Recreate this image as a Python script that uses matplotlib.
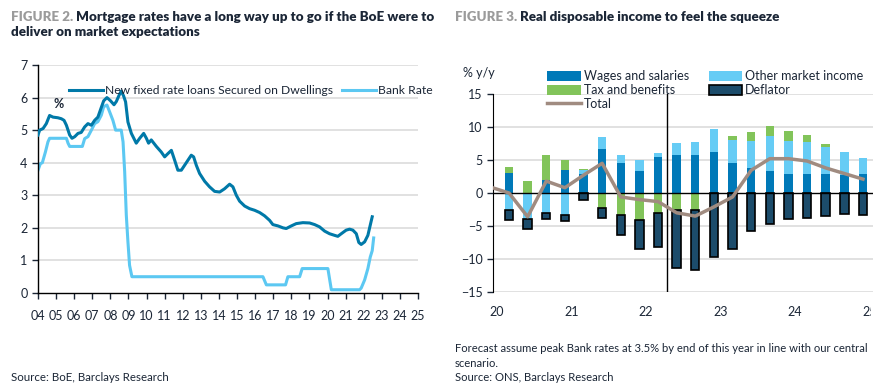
import numpy as np
import matplotlib
matplotlib.use("Agg")
from matplotlib import pyplot as plt
from matplotlib.patches import Rectangle

plt.rcParams['font.family'] = ['Lato', 'DejaVu Sans']

# ---- Figure 2 data ----
mort_year = [2004.00, 2004.09, 2004.28, 2004.46, 2004.64, 2004.83, 2005.10, 2005.29, 2005.44, 2005.57,
             2005.75, 2005.88, 2006.03, 2006.21, 2006.39, 2006.58, 2006.76, 2006.95, 2007.13, 2007.31,
             2007.50, 2007.63, 2007.81, 2008.01, 2008.20, 2008.33, 2008.48, 2008.60, 2008.73, 2008.84,
             2008.97, 2009.16, 2009.34, 2009.43, 2009.62, 2009.84, 2009.99, 2010.11, 2010.26, 2010.54,
             2010.81, 2011.00, 2011.18, 2011.37, 2011.55, 2011.73, 2011.92, 2012.10, 2012.29, 2012.47,
             2012.60, 2012.75, 2012.93, 2013.21, 2013.48, 2013.76, 2014.04, 2014.31, 2014.59, 2014.77,
             2014.96, 2015.14, 2015.42, 2015.69, 2015.97, 2016.25, 2016.52, 2016.80, 2016.98, 2017.26,
             2017.54, 2017.72, 2018.00, 2018.27, 2018.64, 2019.01, 2019.29, 2019.56, 2019.84, 2020.11,
             2020.39, 2020.57, 2020.76, 2021.03, 2021.22, 2021.40, 2021.59, 2021.73, 2021.86, 2022.05,
             2022.23, 2022.36, 2022.47]
mort_rate = [4.85, 5.0, 5.05, 5.2, 5.45, 5.4, 5.38, 5.35, 5.3, 5.15,
             4.85, 4.75, 4.8, 4.9, 4.93, 5.1, 5.2, 5.15, 5.3, 5.4,
             5.7, 5.9, 6.0, 5.9, 5.78, 5.88, 6.07, 6.2, 6.05, 5.87,
             5.25, 4.9, 4.7, 4.6, 4.75, 4.9, 4.75, 4.6, 4.7, 4.5,
             4.33, 4.18, 4.28, 4.38, 4.08, 3.77, 3.77, 3.92, 4.08, 4.23,
             4.18, 3.92, 3.67, 3.43, 3.26, 3.12, 3.1, 3.2, 3.34, 3.26,
             3.0, 2.82, 2.67, 2.59, 2.54, 2.47, 2.37, 2.23, 2.1, 2.06,
             2.0, 1.98, 2.06, 2.13, 2.16, 2.15, 2.1, 2.03, 1.9, 1.82,
             1.77, 1.74, 1.82, 1.93, 1.96, 1.93, 1.82, 1.55, 1.49, 1.57,
             1.77, 2.08, 2.34]

bank_year = [2004.00, 2004.13, 2004.24, 2004.41, 2004.55, 2004.64, 2005.57, 2005.66, 2005.75, 2006.45,
             2006.58, 2006.76, 2006.95, 2007.13, 2007.31, 2007.50, 2007.63, 2007.81, 2007.96, 2008.14,
             2008.29, 2008.60, 2008.70, 2008.79, 2008.88, 2008.97, 2009.06, 2009.19, 2016.43, 2016.62,
             2017.68, 2017.81, 2018.46, 2018.60, 2020.02, 2020.21, 2021.77, 2021.86, 2022.05, 2022.23,
             2022.36, 2022.47, 2022.55]
bank_rate = [3.77, 3.97, 4.0, 4.33, 4.64, 4.75, 4.75, 4.6, 4.5, 4.5,
             4.74, 4.8, 5.0, 5.2, 5.26, 5.46, 5.72, 5.77, 5.56, 5.3,
             5.0, 5.0, 4.64, 3.72, 2.39, 1.57, 0.85, 0.5, 0.5, 0.25,
             0.25, 0.5, 0.5, 0.75, 0.75, 0.1, 0.1, 0.15, 0.4, 0.75,
             1.1, 1.3, 1.69]

left_years = list(range(2004, 2026))
left_labels = ["%02d" % (y % 100) for y in left_years]

# ---- Figure 3 data (quarters, 2020Q1..2024Q4) ----
wages    = [3.0, 0.0, 1.9, 3.45, 2.9, 6.7, 4.55, 3.35, 5.4, 5.8, 5.8, 6.2, 4.55, 3.8, 3.35, 2.95, 2.85, 2.85, 2.75, 2.85]
other    = [-2.6, -4.0, -3.0, -3.4, 0.6, 1.75, 1.25, 1.7, 0.6, 1.85, 1.95, 3.45, 3.5, 4.15, 5.3, 5.0, 4.9, 4.15, 3.45, 2.5]
tax      = [1.0, 1.75, 3.8, 1.5, 0.2, -2.2, -3.4, -4.05, -3.1, -2.65, -2.5, 0.0, 0.6, 1.3, 1.55, 1.5, 1.1, 0.35, 0.0, 0.0]
deflator = [-1.5, -1.4, -0.9, -0.8, -1.0, -1.6, -2.9, -4.5, -5.1, -8.65, -9.2, -9.7, -8.55, -5.7, -4.7, -4.0, -3.85, -3.45, -3.25, -3.3]
# total starts one quarter earlier (2019Q4)
total    = [0.9, 0.0, -3.6, 1.8, 0.8, 2.7, 4.5, -0.6, -1.0, -1.3, -3.0, -3.5, -2.1, -0.6, 3.45, 5.2, 5.2, 4.85, 3.8, 2.95, 2.1]
right_labels = ["20", "21", "22", "23", "24", "25"]

c_mort = "#0079A8"
c_bank = "#5CC8F2"
c_wage = "#0079B8"
c_other = "#66CCF5"
c_tax = "#82C45A"
c_defl = "#1C4C6B"
c_total = "#A08B80"
c_grid = "#DCDCDC"
navy = "#1B2636"
grey = "#9B9B9B"

fig = plt.figure(figsize=(8.83, 3.89), dpi=100)

# ---------------- left chart ----------------
ax1 = fig.add_axes([38/883, 1-293/389, 380/883, 228/389])
for v in range(1, 8):
    ax1.axhline(v, color=c_grid, lw=1.2, zorder=0)
ax1.plot(bank_year, bank_rate, color=c_bank, lw=2.2, label="Bank Rate", zorder=2)
ax1.plot(mort_year, mort_rate, color=c_mort, lw=2.2,
         label="New fixed rate loans Secured on Dwellings", zorder=3)
ax1.set_xlim(2004, 2025)
ax1.set_ylim(0, 7)
ax1.set_xticks(left_years)
ax1.set_xticklabels(left_labels)
ax1.set_yticks(range(0, 8))
for s in ["top", "right"]:
    ax1.spines[s].set_visible(False)
for s in ["left", "bottom"]:
    ax1.spines[s].set_color("black")
    ax1.spines[s].set_linewidth(1.0)
ax1.tick_params(axis="both", labelsize=9, colors=navy, length=4, width=1)
ax1.tick_params(axis="x", pad=8)
h, l = ax1.get_legend_handles_labels()
ax1.legend(h[::-1], l[::-1], ncol=2, loc="upper left", bbox_to_anchor=(63/883, 1-79/389),
           bbox_transform=fig.transFigure, frameon=False, fontsize=8.7, handlelength=2.8,
           handletextpad=0.15, columnspacing=0.8, borderpad=0, labelcolor=navy)
fig.text(53/883, 1-104/389, "%", fontsize=9, fontweight="bold", color=navy, va="center")

# ---------------- right chart ----------------
ax2 = fig.add_axes([493/883, 1-292/389, 380/883, 198/389])
q = np.arange(len(wages))
w = 0.45
for v in [-15, -10, -5, 5, 10, 15]:
    ax2.axhline(v, color=c_grid, lw=1.2, zorder=0)

pos = np.zeros(len(q))
neg = np.zeros(len(q))
series = [(wages, c_wage, "Wages and salaries", "none"),
          (other, c_other, "Other market income", "none"),
          (tax, c_tax, "Tax and benefits", "none"),
          (deflator, c_defl, "Deflator", "black")]
bars = {}
for vals, col, lab, ec in series:
    vals = np.array(vals)
    base = np.where(vals >= 0, pos, neg)
    b = ax2.bar(q, vals, w, bottom=base, color=col, edgecolor=ec,
                linewidth=1.2 if ec != "none" else 0, label=lab, zorder=2)
    bars[lab] = b
    pos = pos + np.where(vals >= 0, vals, 0)
    neg = neg + np.where(vals < 0, vals, 0)

ax2.axhline(0, color="black", lw=1.0, zorder=3)
tq = np.arange(-1, len(wages))
ln, = ax2.plot(tq, total, color=c_total, lw=2.5, label="Total", zorder=4)
ax2.axvline(8.5, color="black", lw=1.0, zorder=3)

ax2.set_xlim(-0.86, 19.54)
ax2.set_ylim(-15, 15)
ax2.set_yticks(range(-15, 16, 5))
ax2.set_xticks([-0.65 + 4 * k for k in range(6)])
ax2.set_xticklabels(right_labels)
for s in ["top", "right", "bottom"]:
    ax2.spines[s].set_visible(False)
ax2.spines["left"].set_color("black")
ax2.tick_params(axis="y", labelsize=9, colors=navy, length=4, width=1)
ax2.tick_params(axis="x", labelsize=9, colors=navy, length=0, pad=10)

hs = [bars["Wages and salaries"], bars["Tax and benefits"], ln,
      bars["Other market income"], bars["Deflator"]]
ls = ["Wages and salaries", "Tax and benefits", "Total", "Other market income", "Deflator"]
ax2.legend(hs, ls, ncol=2, loc="upper left", bbox_to_anchor=(541/883, 1-64/389),
           bbox_transform=fig.transFigure, frameon=False, fontsize=9, handlelength=2.7,
           handleheight=0.9, handletextpad=0.2, columnspacing=1.6, borderpad=0,
           labelspacing=0.15, labelcolor=navy)
fig.text(463/883, 1-73/389, "% y/y", fontsize=9, color=navy, va="center")

# clip the last tick label like in the source
clip = Rectangle((0, 0), 871/883, 1, transform=fig.transFigure)
ax2.get_xticklabels()[-1].set_clip_path(clip)

# ---------------- titles and notes ----------------
def title(x, y, lines):
    t = fig.text(x, y, "FIGURE " + lines[0][0], fontsize=9.6, fontweight="heavy", color=grey, va="baseline")
    fig.canvas.draw()
    bb = t.get_window_extent()
    fig.text(bb.x1 / fig.bbox.width + 3/883, y, lines[0][1], fontsize=9.6, fontweight="heavy",
             color=navy, va="baseline")
    for i, txt in enumerate(lines[1:]):
        fig.text(x, y - (i + 1) * 15/389, txt, fontsize=9.6, fontweight="heavy", color=navy, va="baseline")

title(11/883, 1-21/389, [("2.", "Mortgage rates have a long way up to go if the BoE were to"),
                          "deliver on market expectations"])
title(455/883, 1-21/389, [("3.", "Real disposable income to feel the squeeze")])

fig.text(11/883, 1-381/389, "Source: BoE, Barclays Research", fontsize=8.3, color=navy, va="baseline")
fig.text(455/883, 1-352/389, "Forecast assume peak Bank rates at 3.5% by end of this year in line with our central",
         fontsize=8.1, color=navy, va="baseline")
fig.text(455/883, 1-367/389, "scenario.", fontsize=8.1, color=navy, va="baseline")
fig.text(455/883, 1-381/389, "Source: ONS, Barclays Research", fontsize=8.1, color=navy, va="baseline")

fig.savefig("out.png", dpi=100)
